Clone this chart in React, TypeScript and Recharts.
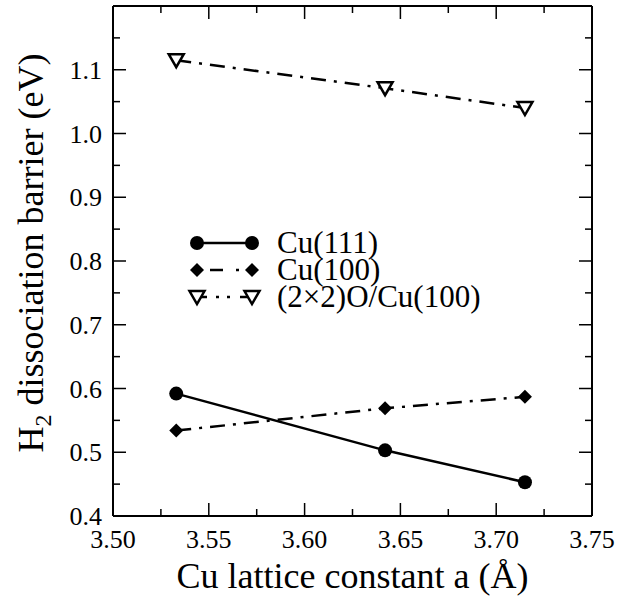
import React from 'react';
import { LineChart, Line, XAxis, YAxis } from 'recharts';

// Cu lattice constant a (Å) for the three computed points
const latticeConstants = [3.533, 3.642, 3.715];
// H2 dissociation barriers (eV)
const cu111Barrier = [0.592, 0.503, 0.453];
const cu100Barrier = [0.534, 0.569, 0.587];
const oCu100Barrier = [1.115, 1.071, 1.04];

const seriesNames = ['Cu(111)', 'Cu(100)', '(2×2)O/Cu(100)'];
const markerShapes = ['circle', 'diamond', 'triangle'];
const dashPatterns = ['', '15 8 3 8', '15 8 3 8'];

const xTicks = [3.5, 3.525, 3.55, 3.575, 3.6, 3.625, 3.65, 3.675, 3.7, 3.725, 3.75];
const xTickLabels = ['3.50', '', '3.55', '', '3.60', '', '3.65', '', '3.70', '', '3.75'];
const yTicks = [0.4, 0.45, 0.5, 0.55, 0.6, 0.65, 0.7, 0.75, 0.8, 0.85, 0.9, 0.95, 1.0, 1.05, 1.1, 1.15, 1.2];
const yTickLabels = ['0.4', '', '0.5', '', '0.6', '', '0.7', '', '0.8', '', '0.9', '', '1.0', '', '1.1', '', ''];

const FONT = "'Liberation Serif', 'Times New Roman', serif";
const MAJOR = 13;
const MINOR = 7;

const toPoints = (ys: number[]) => latticeConstants.map((a, i) => ({ a, v: ys[i] }));
const seriesData = [toPoints(cu111Barrier), toPoints(cu100Barrier), toPoints(oCu100Barrier)];

function Marker({ shape, cx, cy }: { shape: string; cx: number; cy: number }) {
  if (shape === 'circle') return <circle cx={cx} cy={cy} r={7} fill="#000" />;
  if (shape === 'diamond')
    return (
      <polygon
        points={`${cx},${cy - 7} ${cx + 7},${cy} ${cx},${cy + 7} ${cx - 7},${cy}`}
        fill="#000"
      />
    );
  return (
    <polygon
      points={`${cx - 7.5},${cy - 6} ${cx + 7.5},${cy - 6} ${cx},${cy + 7}`}
      fill="#fff"
      stroke="#000"
      strokeWidth={2.5}
    />
  );
}

const isMajorIdx = (i: number) => i % 2 === 0;
const txt = (size: number) => ({ fontFamily: FONT, fontSize: size, fill: '#000' });

function LeftTick(props: any) {
  const { x, y, index } = props;
  const len = isMajorIdx(index) ? MAJOR : MINOR;
  return (
    <g>
      <line x1={x} y1={y} x2={x + len} y2={y} stroke="#000" strokeWidth={1.5} />
      <text x={x - 11} y={y} dy={9} textAnchor="end" style={txt(26)}>
        {yTickLabels[index]}
      </text>
    </g>
  );
}

function RightTick(props: any) {
  const { x, y, index } = props;
  const len = isMajorIdx(index) ? MAJOR : MINOR;
  return <line x1={x} y1={y} x2={x - len} y2={y} stroke="#000" strokeWidth={1.5} />;
}

function BottomTick(props: any) {
  const { x, y, index } = props;
  const len = isMajorIdx(index) ? MAJOR : MINOR;
  return (
    <g>
      <line x1={x} y1={y} x2={x} y2={y - len} stroke="#000" strokeWidth={1.5} />
      <text x={x} y={y + 32} textAnchor="middle" style={txt(26)}>
        {xTickLabels[index]}
      </text>
    </g>
  );
}

function TopTick(props: any) {
  const { x, y, index } = props;
  const len = isMajorIdx(index) ? MAJOR : MINOR;
  return <line x1={x} y1={y} x2={x} y2={y + len} stroke="#000" strokeWidth={1.5} />;
}

function XLabel(props: any) {
  const vb = props.viewBox || {};
  return (
    <text x={vb.x + vb.width / 2} y={vb.y + 72} textAnchor="middle" style={txt(36)}>
      Cu lattice constant a (Å)
    </text>
  );
}

function YLabel(props: any) {
  const vb = props.viewBox || {};
  const cx = 43;
  const cy = vb.y + vb.height / 2 - 8;
  return (
    <text x={cx} y={cy} transform={`rotate(-90 ${cx} ${cy})`} textAnchor="middle" style={txt(36)}>
      H
      <tspan style={{ fontSize: 24 }} dy={8}>2</tspan>
      <tspan dy={-8}> dissociation barrier (eV)</tspan>
    </text>
  );
}

// legend key strokes: solid, dash-dot, dash-dot-dot-dash
const legendDash = ['', '13 13 3 13', '10 9 3 8 3 10 20'];
const legendDashOffset = [0, 29, 0];

function LegendBox() {
  const rows = [243, 270, 297];
  const x1 = 197;
  const x2 = 252;
  return (
    <svg
      width={619}
      height={603}
      style={{ position: 'absolute', left: 0, top: 0, pointerEvents: 'none' }}
    >
      {seriesNames.map((name, i) => (
        <g key={name}>
          <line
            x1={x1}
            y1={rows[i]}
            x2={x2}
            y2={rows[i]}
            stroke="#000"
            strokeWidth={2.5}
            strokeDasharray={legendDash[i] || undefined}
            strokeDashoffset={legendDashOffset[i]}
          />
          <Marker shape={markerShapes[i]} cx={x1} cy={rows[i]} />
          <Marker shape={markerShapes[i]} cx={x2} cy={rows[i]} />
          <text x={277} y={rows[i]} dy={10} style={txt(31)}>
            {name}
          </text>
        </g>
      ))}
    </svg>
  );
}

const axisLineStyle = { stroke: '#000', strokeWidth: 2 };

export default function App() {
  return (
    <div style={{ position: 'absolute', left: 0, top: 0, width: 619, height: 603, background: '#fff' }}>
      <LineChart width={619} height={603} margin={{ top: 5, right: 26, bottom: 0, left: 0 }}>
        <XAxis
          xAxisId="bottom"
          dataKey="a"
          type="number"
          domain={[3.5, 3.75]}
          ticks={xTicks}
          interval={0}
          allowDataOverflow
          height={87}
          tickSize={0}
          tickMargin={0}
          tickLine={false}
          axisLine={axisLineStyle}
          tick={<BottomTick />}
          label={<XLabel />}
        />
        <XAxis
          xAxisId="top"
          orientation="top"
          dataKey="a"
          type="number"
          domain={[3.5, 3.75]}
          ticks={xTicks}
          interval={0}
          allowDataOverflow
          height={1}
          tickSize={0}
          tickMargin={0}
          tickLine={false}
          axisLine={axisLineStyle}
          tick={<TopTick />}
        />
        <YAxis
          yAxisId="left"
          type="number"
          domain={[0.4, 1.2]}
          ticks={yTicks}
          interval={0}
          allowDataOverflow
          width={113}
          tickSize={0}
          tickMargin={0}
          tickLine={false}
          axisLine={axisLineStyle}
          tick={<LeftTick />}
          label={<YLabel />}
        />
        <YAxis
          yAxisId="right"
          orientation="right"
          type="number"
          domain={[0.4, 1.2]}
          ticks={yTicks}
          interval={0}
          allowDataOverflow
          width={1}
          tickSize={0}
          tickMargin={0}
          tickLine={false}
          axisLine={axisLineStyle}
          tick={<RightTick />}
        />
        {/* unstroked series that keeps the top and right frame axes active */}
        <Line
          data={seriesData[0]}
          dataKey="v"
          xAxisId="top"
          yAxisId="right"
          stroke="none"
          dot={false}
          activeDot={false}
          legendType="none"
          isAnimationActive={false}
        />
        {seriesData.map((data, i) => (
          <Line
            key={seriesNames[i]}
            name={seriesNames[i]}
            data={data}
            dataKey="v"
            xAxisId="bottom"
            yAxisId="left"
            type="linear"
            stroke="#000"
            strokeWidth={2.5}
            strokeDasharray={dashPatterns[i] || undefined}
            isAnimationActive={false}
            dot={(p: any) => <Marker key={`${i}-${p.index}`} shape={markerShapes[i]} cx={p.cx} cy={p.cy} />}
            activeDot={false}
          />
        ))}
      </LineChart>
      <LegendBox />
    </div>
  );
}
